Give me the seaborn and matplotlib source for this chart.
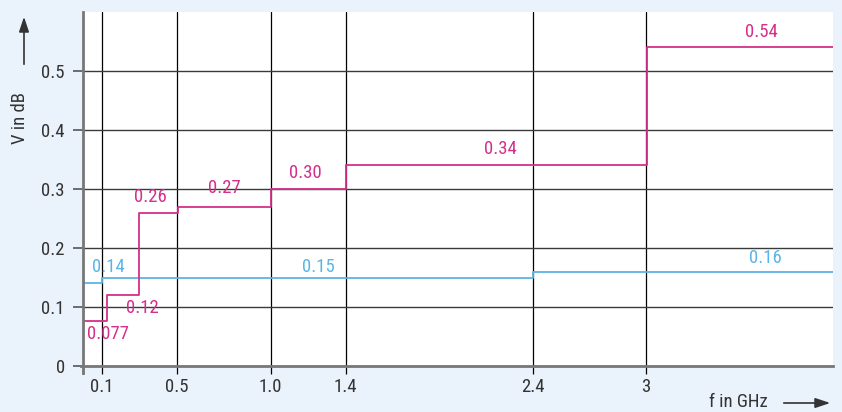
import matplotlib
matplotlib.use("Agg")
import matplotlib.pyplot as plt
from matplotlib import font_manager
from matplotlib.patches import FancyArrowPatch
import seaborn as sns
import pandas as pd

# Step edges (GHz) and attenuation levels (dB) for the two traces
magenta_f = [0.0, 0.13, 0.30, 0.505, 1.005, 1.405, 3.008, 4.0]
magenta_v = [0.077, 0.12, 0.26, 0.27, 0.30, 0.34, 0.54, 0.54]
blue_f = [0.0, 0.1, 2.4, 4.0]
blue_v = [0.14, 0.15, 0.16, 0.16]

# Value labels: text, x position of the label, offset from its level (pt)
magenta_labels = ["0.077", "0.12", "0.26", "0.27", "0.30", "0.34", "0.54"]
magenta_label_x = [0.133, 0.315, 0.357, 0.752, 1.184, 2.224, 3.616]
magenta_label_dy = [-9.4, -9.4, 11.5, 13.5, 11.5, 11.8, 11.0]
blue_labels = ["0.14", "0.15", "0.16"]
blue_label_x = [0.133, 1.253, 3.637]
blue_label_v = [0.14, 0.15, 0.16]
blue_label_dy = [11.8, 7.6, 9.8]

x_ticks = [0, 0.1, 0.5, 1.0, 1.4, 2.4, 3]
x_tick_labels = ["", "0.1", "0.5", "1.0", "1.4", "2.4", "3"]
y_ticks = [0, 0.1, 0.2, 0.3, 0.4, 0.5]
y_tick_labels = ["0", "0.1", "0.2", "0.3", "0.4", "0.5"]

MAGENTA = "#d42f8a"
BLUE = "#5cb4e6"
BG = "#eaf2fb"
TXT = "#333333"

# Prefer a narrow sans face when one is installed
available = {f.name for f in font_manager.fontManager.ttflist}
families = [n for n in ["Roboto Condensed", "Liberation Sans Narrow",
                        "Open Sans Condensed", "Roboto"] if n in available]
families.append("DejaVu Sans")

sns.set_style("white")
plt.rcParams["font.family"] = families
if families[0] == "Roboto":
    plt.rcParams["font.stretch"] = "condensed"

fig = plt.figure(figsize=(8.42, 4.12), dpi=100, facecolor=BG)
ax = fig.add_axes([83 / 842, 46 / 412, 750 / 842, 354 / 412])
ax.set_facecolor("white")

# Grid: black verticals at the frequency ticks, dark horizontals at levels
for xv in x_ticks[1:]:
    ax.axvline(xv, color="black", lw=0.9, zorder=1)
for yv in y_ticks[1:]:
    ax.axhline(yv, color="#3a3a3a", lw=1.0, zorder=1)

dm = pd.DataFrame({"f": magenta_f, "v": magenta_v})
db = pd.DataFrame({"f": blue_f, "v": blue_v})
sns.lineplot(data=db, x="f", y="v", drawstyle="steps-post", color=BLUE,
             lw=1.3, ax=ax, zorder=3)
sns.lineplot(data=dm, x="f", y="v", drawstyle="steps-post", color=MAGENTA,
             lw=1.3, ax=ax, zorder=4)

fs = 13.5
for t, xv, lv, dy in zip(magenta_labels, magenta_label_x, magenta_v, magenta_label_dy):
    ax.annotate(t, (xv, lv), xytext=(0, dy), textcoords="offset points",
                ha="center", va="center", color=MAGENTA, fontsize=fs, zorder=5)
for t, xv, lv, dy in zip(blue_labels, blue_label_x, blue_label_v, blue_label_dy):
    ax.annotate(t, (xv, lv), xytext=(0, dy), textcoords="offset points",
                ha="center", va="center", color=BLUE, fontsize=fs, zorder=5)

ax.set_xlim(0, 4.0)
ax.set_ylim(0, 0.6)
ax.set_xticks(x_ticks)
ax.set_xticklabels(x_tick_labels)
ax.set_yticks(y_ticks)
ax.set_yticklabels(y_tick_labels)
ax.tick_params(axis="x", length=6, width=0.9, color="black", pad=3,
               labelsize=fs, labelcolor=TXT, direction="out", bottom=True)
ax.tick_params(axis="y", length=7, width=1.2, color="#555555", pad=6,
               labelsize=fs, labelcolor=TXT, direction="out", left=True)

for s in ["top", "right"]:
    ax.spines[s].set_visible(False)
for s in ["left", "bottom"]:
    ax.spines[s].set_color("#777777")
    ax.spines[s].set_linewidth(2.0)
    ax.spines[s].set_zorder(6)
ax.spines["left"].set_bounds(-0.012, 0.6)
ax.spines["bottom"].set_bounds(-0.013, 4.0)
ax.set_xlabel("")
ax.set_ylabel("")

# Axis titles with direction arrows
fig.text(20 / 842, 1 - 118 / 412, "V in dB", rotation=90, ha="center",
         va="center", fontsize=fs, color=TXT)
fig.add_artist(FancyArrowPatch(
    (24 / 842, 1 - 67 / 412), (24 / 842, 1 - 14 / 412),
    transform=fig.transFigure, arrowstyle="-|>,head_length=9,head_width=3",
    color="#333333", lw=1.2, mutation_scale=1))
fig.text(738 / 842, 1 - 402 / 412, "f in GHz", ha="center", va="center",
         fontsize=fs, color=TXT)
fig.add_artist(FancyArrowPatch(
    (781 / 842, 1 - 403 / 412), (833 / 842, 1 - 403 / 412),
    transform=fig.transFigure, arrowstyle="-|>,head_length=9,head_width=3",
    color="#333333", lw=1.2, mutation_scale=1))

fig.savefig("out.png", dpi=100, facecolor=BG)
